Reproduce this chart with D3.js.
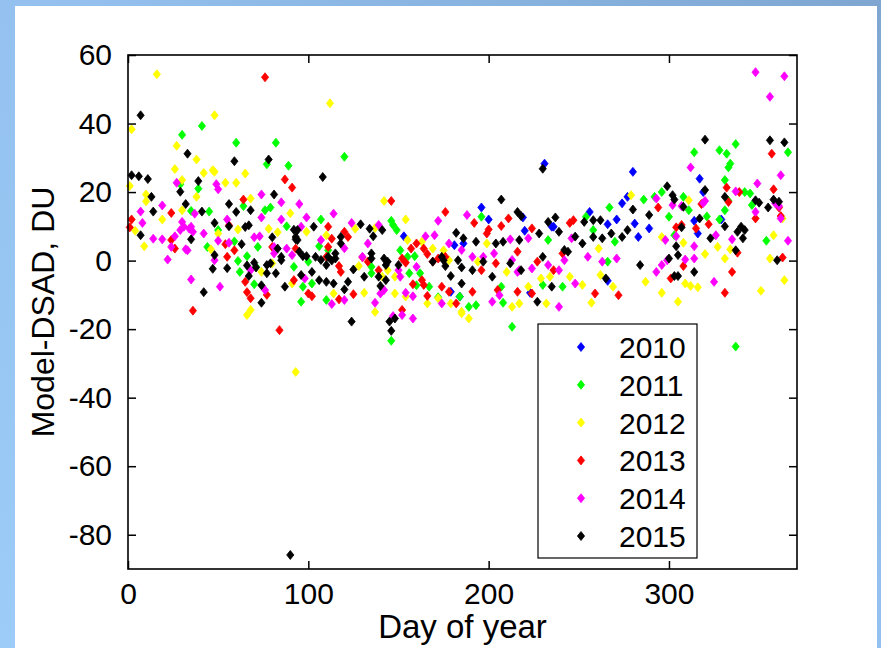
<!DOCTYPE html>
<html>
<head>
<meta charset="utf-8">
<script src="https://cdn.jsdelivr.net/npm/d3@7"></script>
<style>
  html, body { margin: 0; padding: 0; background: #fff; }
  svg { display: block; }
  text { font-family: "Liberation Sans", Arial, sans-serif; fill: #000; }
</style>
</head>
<body>
<svg id="chart" width="881" height="648"></svg>
<script>
// Model minus DSAD total ozone differences (DU) by day of year, one array per year
const years = ["2010", "2011", "2012", "2013", "2014", "2015"];
const colors = ["#0000ff", "#00ff00", "#ffff00", "#ff0000", "#ff00ff", "#000000"];

const d2010 = [[153,7.1],[181,4.5],[186,5.0],[179,-9.1],[184,-10.5],[231,28.3],[196,15.5],[200,12.0],[219,12.6],[256,14.2],[235,9.9],[266,10.6],[271,12.0],[274,16.7],[277,18.6],[223,-9.4],[266,-5.9],[280,25.9],[317,23.9],[319,20.0],[314,11.6],[316,7.9],[329,12.0],[281,10.8],[289,9.4],[283,6.9],[220,8.7],[236,9.9]];

const d2011 = [[30,36.7],[60,34.4],[82,34.4],[77,28.1],[89,27.7],[39,21.0],[64,15.9],[76,14.7],[79,15.5],[35,14.5],[45,14.3],[50,8.9],[88,10.0],[59,5.6],[72,4.0],[44,4.0],[61,-0.1],[66,1.3],[71,-1.8],[62,-3.3],[92,-1.8],[70,-6.9],[41,39.3],[29,22.3],
  [120,30.3],[107,12.0],[146,11.6],[147,10.4],[149,8.9],[106,4.2],[111,3.0],[100,-0.3],[102,-6.7],[97,-7.6],[96,-12.0],[110,-11.5],[135,-3.7],[135,-1.8],[146,-23.4],[160,-7.2],[167,-7.6],[172,-10.7],[184,-10.5],[151,3.0],[155,1.1],[159,1.3],[156,-3.7],[162,-3.7],
  [196,12.8],[233,6.0],[254,12.8],[258,8.9],[270,5.5],[266,-0.3],[267,15.5],[189,-13.5],[193,-13.0],[208,-12.3],[213,-19.3],[230,-7.1],[241,-7.6],[207,-7.6],
  [337,34.0],[314,31.6],[328,32.2],[332,31.2],[334,28.3],[333,27.2],[366,31.6],[331,23.5],[296,20.0],[292,18.6],[286,17.8],[308,18.6],[311,14.7],[342,20.0],[345,19.6],[333,17.4],[346,16.2],[331,14.7],[321,12.9],[328,12.0],[300,12.8],[354,5.8],[303,7.4],[337,-25.1]];

const d2012 = [[16,54.4],[2,38.3],[48,42.4],[112,45.9],[1,21.8],
  [27,33.5],[38,29.5],[26,26.7],[47,26.4],[48,25.9],[42,25.6],[65,25.4],[60,22.7],[54,22.7],[30,23.5],[10,19.3],[38,18.6],[68,18.1],[10,17.3],[30,14.7],[90,13.8],[19,12.0],[4,8.7],[9,4.2],[50,7.9],[61,9.1],[78,9.3],[83,8.3],[46,3.3],[74,-3.3],[80,-0.8],[91,-6.7],[66,-15.9],[68,-14.4],[93,-32.5],
  [142,17.4],[154,12.0],[126,9.3],[137,9.5],[99,8.4],[110,7.4],[114,-9.6],[128,-1.6],[131,-9.4],[137,-15.0],[148,-9.6],[154,-10.5],[166,-12.5],[172,-11.0],[179,-12.5],[185,-15.4],[155,6.0],[163,5.5],[169,3.5],[175,3.0],[178,0.1],[144,-2.8],[148,-4.7],[141,-4.7],
  [199,5.0],[261,3.5],[194,-0.3],[210,-3.3],[222,-7.6],[229,-5.2],[245,-4.7],[252,-7.1],[262,-4.2],[269,-7.6],[257,-12.3],[232,-12.5],[213,-13.5],[217,-12.5],[189,-16.9],[185,-14.9],[234,-4.7],
  [279,19.1],[311,17.6],[363,12.3],[327,4.0],[334,3.3],[358,7.4],[320,1.9],[331,0.6],[308,5.2],[296,6.9],[356,0.6],[351,-8.8],[364,-5.7],[296,-9.4],[305,-12.0],[287,-6.2],[309,-6.7],[312,-7.4],[316,-7.8]];

const d2013 = [[76,53.5],
  [87,23.7],[91,21.3],[64,17.8],[24,13.9],[2,12.0],[1,9.7],[26,3.5],[56,10.3],[54,4.8],[59,3.0],[55,1.1],[80,4.0],[93,3.5],[92,-5.7],[65,-6.2],[66,-9.2],[68,-11.0],[77,-10.0],[36,-14.6],[84,-20.3],[24,6.0],
  [146,17.4],[176,14.2],[111,9.9],[113,6.4],[120,8.4],[122,6.9],[111,4.0],[110,1.1],[117,-1.6],[118,-3.3],[100,-9.6],[102,-10.4],[117,-11.3],[125,-9.8],[130,1.0],[133,-0.3],[152,-14.4],[158,-6.9],[166,-10.3],[164,-7.1],[174,-7.6],[178,-9.1],[182,-12.5],[157,3.5],[160,5.0],[164,3.5],[166,1.9],[169,-0.3],[172,0.6],[176,1.1],[152,0.6],[154,-0.6],[139,-2.8],[163,-5.7],
  [192,11.0],[211,12.3],[207,10.1],[247,11.8],[245,11.0],[224,9.4],[200,9.1],[199,7.9],[196,-2.8],[204,-0.8],[216,2.6],[227,-0.3],[236,-2.8],[241,2.1],[259,-9.6],[272,-10.1],[191,-9.1],[205,-8.6],[216,-9.1],[224,-9.6],
  [357,31.2],[332,21.3],[358,20.8],[339,20.0],[318,16.5],[333,17.1],[361,15.5],[362,13.0],[348,12.3],[294,15.5],[322,10.6],[315,9.4],[307,10.4],[304,9.7],[338,2.3],[363,0.9],[335,-3.3],[331,-9.4],[308,-1.6],[301,-5.2]];

const d2014 = [[348,55.0],[364,53.8],[356,47.8],[362,24.9],
  [27,22.7],[49,22.3],[50,20.8],[74,19.3],[85,17.0],[19,16.1],[7,14.3],[37,13.7],[8,11.0],[14,6.4],[19,6.2],[24,4.0],[22,0.3],[26,7.1],[29,8.9],[31,9.9],[34,9.3],[30,11.3],[36,8.4],[42,7.9],[33,3.0],[55,12.0],[74,12.6],[85,12.0],[70,6.8],[73,7.1],[50,5.8],[56,5.2],[48,0.1],[68,-2.8],[81,4.0],[81,2.1],[88,3.5],[91,1.6],[35,-5.5],[51,-7.6],[76,-8.6],[32,3.3],[35,9.9],
  [95,16.5],[172,11.6],[114,13.7],[99,12.6],[124,11.0],[139,10.4],[96,9.9],[107,6.0],[120,3.6],[98,-5.2],[113,-12.7],[120,-11.5],[137,-12.3],[140,-9.6],[142,-8.6],[130,1.1],[133,5.0],[147,-16.2],[152,-15.9],[158,-16.9],[150,-2.8],[154,-9.4],[158,-10.4],[174,-12.5],[165,7.1],[170,7.4],[178,5.0],[151,-4.7],[160,-1.8],
  [188,13.3],[212,6.2],[222,6.5],[246,6.5],[255,1.1],[263,-0.3],[271,0.6],[185,3.1],[191,1.1],[197,1.1],[203,2.1],[213,0.2],[217,-2.8],[224,-2.3],[233,-1.3],[239,-2.8],[242,0.1],[202,-12.0],[206,-10.1],[216,-3.3],[239,-13.5],[248,-6.7],
  [312,27.2],[349,22.5],[293,18.1],[337,20.2],[320,17.4],[319,16.8],[359,16.7],[361,15.9],[348,14.2],[362,12.3],[302,16.2],[307,15.9],[326,7.4],[335,6.2],[366,5.8],[314,4.2],[298,6.0],[304,7.1],[325,-6.2],[314,0.6],[309,0.3],[296,-1.3],[299,0.1],[293,-3.3]];

const d2015 = [[7,42.4],[33,31.2],[59,29.0],[78,29.5],[2,24.9],[6,24.6],[11,23.8],[320,35.3],[356,35.1],[364,34.5],
  [29,20.1],[39,23.2],[81,19.3],[13,18.6],[32,16.5],[56,16.5],[60,14.2],[68,14.7],[14,14.3],[41,14.3],[7,7.4],[35,6.2],[48,11.0],[56,10.0],[65,9.8],[67,10.3],[92,9.0],[93,6.2],[80,6.8],[63,4.8],[48,1.6],[47,-2.4],[55,-2.2],[66,-1.4],[70,-0.6],[71,-2.0],[77,-1.3],[79,-0.8],[77,-3.7],[82,-3.7],[83,3.5],[85,1.1],[85,0.1],[87,-7.6],[42,-9.2],[67,-4.5],[74,-7.2],[74,-12.3],[90,-85.9],
  [108,24.4],[129,10.6],[134,9.3],[141,8.9],[136,7.1],[103,9.9],[94,8.9],[93,6.9],[94,6.0],[95,2.6],[97,1.3],[118,6.9],[118,5.0],[115,2.1],[99,1.3],[104,1.1],[107,0.2],[111,1.1],[113,0.0],[115,0.6],[110,-1.3],[106,-5.7],[110,-6.2],[114,-6.7],[102,-3.3],[96,-4.2],[120,-8.4],[122,-6.2],[125,-2.6],[131,-4.7],[140,-7.4],[135,2.1],[135,0.6],[142,0.6],[144,-0.3],[143,-1.3],[124,-17.8],[145,-17.8],[146,-20.5],[148,-16.9],[182,8.1],[183,0.1],[179,-4.5],[185,-2.0],[169,-0.3],[174,1.1],[175,0.1],[176,-1.6],[139,-4.7],[143,-5.7],[150,-1.3],
  [230,26.8],[207,17.8],[216,14.2],[218,13.0],[233,11.3],[237,12.6],[253,11.3],[258,11.8],[262,11.8],[239,8.4],[228,7.9],[186,6.5],[193,5.5],[204,5.0],[208,5.5],[217,6.0],[244,2.6],[242,3.1],[248,7.0],[252,5.0],[258,6.9],[263,6.5],[268,7.9],[274,6.9],[277,8.9],[191,-2.8],[197,-0.3],[202,-4.7],[212,-0.8],[218,-2.8],[230,1.1],[235,-7.6],[227,-12.0],[265,-5.2],[185,-6.7],
  [299,21.7],[302,19.1],[303,17.8],[320,20.6],[331,18.6],[348,17.6],[350,16.9],[355,15.5],[358,17.8],[361,17.2],[280,14.9],[289,13.3],[308,15.7],[317,12.3],[331,10.0],[338,8.4],[340,9.9],[342,8.9],[341,6.5],[323,6.5],[307,9.7],[337,3.0],[360,0.1],[304,4.2],[305,1.6],[300,0.6],[284,-1.3],[314,-3.3],[303,-4.5],[305,-4.5]];

const seriesData = [d2010, d2011, d2012, d2013, d2014, d2015];
const xTicks = [0, 100, 200, 300];
const yTicks = [-80, -60, -40, -20, 0, 20, 40, 60];
const xTitle = "Day of year";
const yTitle = "Model-DSAD, DU";

const svg = d3.select("#chart");
const W = 881, H = 648;

// slide-style frame: blue border band behind a white panel
const defs = svg.append("defs");
const grad = defs.append("linearGradient").attr("id", "frameGrad")
  .attr("x1", "0%").attr("y1", "100%").attr("x2", "100%").attr("y2", "0%");
grad.append("stop").attr("offset", "0%").attr("stop-color", "#9dccf8");
grad.append("stop").attr("offset", "55%").attr("stop-color", "#93c0ee");
grad.append("stop").attr("offset", "100%").attr("stop-color", "#7ea6d1");
svg.append("rect").attr("width", W).attr("height", H).attr("fill", "url(#frameGrad)");
svg.append("rect").attr("x", 15).attr("y", 6).attr("width", 862).attr("height", H - 6).attr("fill", "#fff");

const plot = { left: 128, right: 797, top: 55, bottom: 569 };
const x = d3.scaleLinear().domain([0, 371]).range([plot.left, plot.right]);
const y = d3.scaleLinear().domain([-90, 60]).range([plot.bottom, plot.top]);

const g = svg.append("g");

// data markers, plotted year by year so later years sit on top
const marker = "M0,-4.5L3.6,0L0,4.5L-3.6,0Z";
seriesData.forEach((pts, i) => {
  g.append("g").selectAll("path").data(pts).join("path")
    .attr("d", marker)
    .attr("transform", d => `translate(${x(d[0])},${y(d[1])})`)
    .attr("fill", colors[i])
    .attr("stroke", colors[i])
    .attr("stroke-width", 0.8);
});

// axes with inward ticks on all four sides; plain hyphen for negatives
const tickLen = 8;
const fmt = d => String(d);
const axStyle = sel => {
  sel.select(".domain").remove();
  sel.selectAll("line").attr("stroke", "#000").attr("stroke-width", 1.5);
  sel.selectAll("text").style("font-size", "30px").attr("fill", "#000");
};
svg.append("g").attr("transform", `translate(0,${plot.bottom})`)
  .call(d3.axisBottom(x).tickValues(xTicks).tickSize(-tickLen).tickPadding(14).tickFormat(fmt))
  .call(axStyle);
svg.append("g").attr("transform", `translate(0,${plot.top})`)
  .call(d3.axisTop(x).tickValues(xTicks).tickSize(-tickLen).tickFormat(""))
  .call(axStyle);
svg.append("g").attr("transform", `translate(${plot.left},0)`)
  .call(d3.axisLeft(y).tickValues(yTicks).tickSize(-tickLen).tickPadding(16).tickFormat(fmt))
  .call(axStyle);
svg.append("g").attr("transform", `translate(${plot.right},0)`)
  .call(d3.axisRight(y).tickValues(yTicks).tickSize(-tickLen).tickFormat(""))
  .call(axStyle);

// box
svg.append("rect")
  .attr("x", plot.left).attr("y", plot.top)
  .attr("width", plot.right - plot.left).attr("height", plot.bottom - plot.top)
  .attr("fill", "none").attr("stroke", "#000").attr("stroke-width", 1.6);

// axis titles
svg.append("text")
  .attr("x", (plot.left + plot.right) / 2).attr("y", 638)
  .attr("text-anchor", "middle").style("font-size", "33px")
  .text(xTitle);
svg.append("text")
  .attr("transform", `translate(54,${(plot.top + plot.bottom) / 2}) rotate(-90)`)
  .attr("text-anchor", "middle").style("font-size", "32px")
  .text(yTitle);

// legend
const leg = { x: 538, y: 324, w: 159, h: 234 };
const lg = svg.append("g");
lg.append("rect").attr("x", leg.x).attr("y", leg.y).attr("width", leg.w).attr("height", leg.h)
  .attr("fill", "#fff").attr("stroke", "#000").attr("stroke-width", 1.2);
const rowY = d3.scalePoint().domain(years).range([347, 536]);
years.forEach((yr, i) => {
  lg.append("path").attr("d", marker)
    .attr("transform", `translate(581,${rowY(yr)})`)
    .attr("fill", colors[i]).attr("stroke", colors[i]).attr("stroke-width", 0.8);
  lg.append("text").attr("x", 619).attr("y", rowY(yr) + 11)
    .style("font-size", "30px").text(yr);
});
</script>
</body>
</html>
